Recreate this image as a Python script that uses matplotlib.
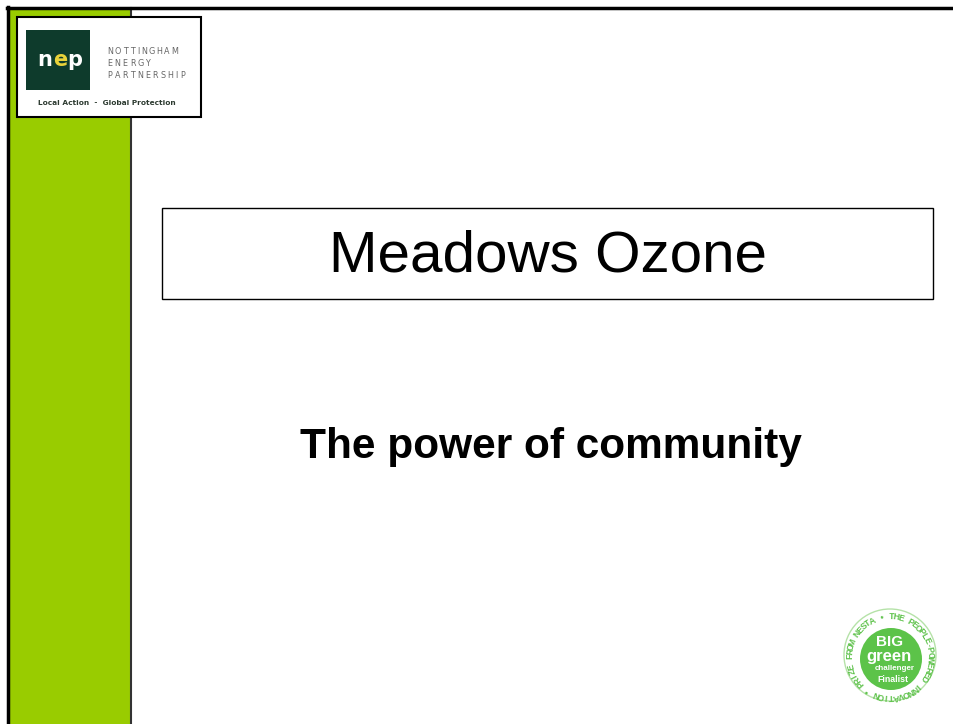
import numpy as np
import matplotlib.pyplot as plt
from matplotlib.patches import Rectangle, Circle

# slide texts
title = "Meadows Ozone"
subtitle = "The power of community"
logo_mark = ["n", "e", "p"]
logo_lines = ["NOTTINGHAM", "ENERGY", "PARTNERSHIP"]
logo_tagline = "Local Action  -  Global Protection"
badge_ring = "PRIZE FROM NESTA \u2022 THE PEOPLE-POWERED INNOVATION \u2022"
badge_lines = ["BIG", "green", "challenger", "Finalist"]

W, H = 954, 724
plt.rcParams['font.family'] = ['Liberation Sans', 'DejaVu Sans']

fig = plt.figure(figsize=(W / 100, H / 100), dpi=100)
ax = fig.add_axes([0, 0, 1, 1])
ax.set_xlim(0, W)
ax.set_ylim(H, 0)
ax.axis('off')

# green side bar and slide frame
ax.add_patch(Rectangle((8, 8), 123, H, facecolor='#99cc00', edgecolor='none', zorder=1))
ax.plot([131, 131], [8, H], color='#333333', lw=1.5, zorder=2)
ax.plot([8, 8], [7, H], color='black', lw=2.5, zorder=2)
ax.plot([7, W], [8, 8], color='black', lw=2.5, zorder=2)

# logo
ax.add_patch(Rectangle((17, 17), 184, 100, facecolor='white', edgecolor='black',
                       lw=1.5, zorder=3))
ax.add_patch(Rectangle((26, 30), 64, 60, facecolor='#0e3b2c', edgecolor='none', zorder=4))
mark_colors = ['white', '#e8d23a', 'white']
for i, (ch, c) in enumerate(zip(logo_mark, mark_colors)):
    ax.text(45 + i * 15, 60, ch, color=c, fontsize=15, fontweight='bold',
            va='center', ha='center', zorder=5, family='DejaVu Sans')
for i, line in enumerate(logo_lines):
    x = 106
    for ch in line:
        cell = 4.0 if ch == 'I' else 7.6
        ax.text(x + cell / 2, 51 + i * 12, ch, color='#666666', fontsize=5.8,
                va='center', ha='center', zorder=5, family='DejaVu Sans')
        x += cell
ax.text(107, 103, logo_tagline, color='#2c3a30', fontsize=5.3, fontweight='bold',
        va='center', ha='center', zorder=5, family='DejaVu Sans')

# title box
ax.add_patch(Rectangle((162, 208), 771, 91, facecolor='white', edgecolor='black', lw=1))
ax.text(548, 256, title, fontsize=42, ha='center', va='center', color='black')
ax.text(551, 447, subtitle, fontsize=30.5, fontweight='bold', ha='center', va='center',
        color='black')

# badge
cx, cy = 890, 655
ax.add_patch(Circle((cx, cy), 46, facecolor='white', edgecolor='#b5e2a8', lw=1.0))
ax.add_patch(Circle((cx + 1, cy + 4), 31, facecolor='#5cc349', edgecolor='none'))
start = 222.0
step = 360.0 / (len(badge_ring) + 1)
for k, ch in enumerate(badge_ring):
    ang = np.deg2rad(start - k * step)
    r = 40
    x = cx + r * np.cos(ang)
    y = cy + 2 - r * np.sin(ang)
    ax.text(x, y, ch, fontsize=6.3, color='#5fc24c', fontweight='bold',
            rotation=np.rad2deg(ang) - 90, ha='center', va='center',
            rotation_mode='anchor')
ax.text(cx, cy - 13, badge_lines[0], color='white', fontsize=11, fontweight='bold',
        ha='center', va='center')
ax.text(cx - 1, cy + 2, badge_lines[1], color='white', fontsize=12, fontweight='bold',
        ha='center', va='center')
ax.text(cx + 5, cy + 14, badge_lines[2], color='white', fontsize=5.8, fontweight='bold',
        ha='center', va='center')
ax.text(cx + 3, cy + 24, badge_lines[3], color='white', fontsize=6.3, fontweight='bold',
        ha='center', va='center')

fig.savefig('out.png', dpi=100)
